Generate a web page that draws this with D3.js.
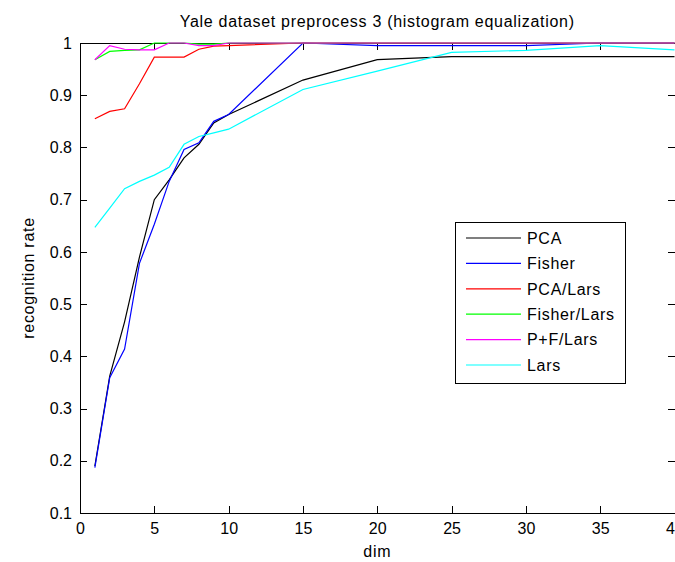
<!DOCTYPE html>
<html>
<head>
<meta charset="utf-8">
<script src="https://cdn.jsdelivr.net/npm/d3@7"></script>
<style>
  body { margin: 0; background: #fff; }
  svg { display: block; font-family: "Liberation Sans", Arial, sans-serif; }
  .axis path, .axis line { stroke: #000; shape-rendering: crispEdges; }
  .axis text { font-size: 16px; fill: #000; }
  .line { fill: none; stroke-width: 1.2px; }
  .lbl { font-size: 16px; letter-spacing: 0.7px; }
</style>
</head>
<body>
<svg width="675" height="562"></svg>
<script>
// dims where each method was evaluated
var dims = [1, 2, 3, 4, 5, 6, 7, 8, 9, 10, 15, 20, 25, 30, 35, 40];

var pca        = [0.190, 0.362, 0.466, 0.590, 0.700, 0.738, 0.780, 0.806, 0.847, 0.863, 0.929, 0.968, 0.974, 0.974, 0.974, 0.974];
var fisher     = [0.187, 0.359, 0.414, 0.578, 0.653, 0.735, 0.796, 0.809, 0.850, 0.863, 1.000, 0.995, 0.995, 0.995, 1.000, 1.000];
var pcaLars    = [0.855, 0.869, 0.874, 0.922, 0.973, 0.973, 0.973, 0.988, 0.994, 0.995, 1.000, 1.000, 1.000, 1.000, 1.000, 1.000];
var fisherLars = [0.968, 0.984, 0.986, 0.987, 1.000, 1.000, 1.000, 0.998, 0.998, 1.000, 1.000, 1.000, 1.000, 1.000, 1.000, 1.000];
var pfLars     = [0.968, 0.995, 0.988, 0.987, 0.987, 1.000, 1.000, 0.995, 0.995, 1.000, 1.000, 1.000, 1.000, 1.000, 1.000, 1.000];
var lars       = [0.647, 0.684, 0.721, 0.735, 0.747, 0.762, 0.806, 0.821, 0.828, 0.835, 0.911, 0.946, 0.982, 0.986, 0.995, 0.987];

var seriesNames = ["PCA", "Fisher", "PCA/Lars", "Fisher/Lars", "P+F/Lars", "Lars"];
var seriesValues = [pca, fisher, pcaLars, fisherLars, pfLars, lars];
var seriesColors = ["#000000", "#0000ff", "#ff0000", "#00ff00", "#ff00ff", "#00ffff"];

var xTicks = [0, 5, 10, 15, 20, 25, 30, 35, 40];
var yTicks = [0.1, 0.2, 0.3, 0.4, 0.5, 0.6, 0.7, 0.8, 0.9, 1];

var svg = d3.select("svg"),
    plot = {left: 80, right: 674.5, top: 43, bottom: 513};

var x = d3.scaleLinear().domain([0, 40]).range([plot.left, plot.right]),
    y = d3.scaleLinear().domain([0.1, 1]).range([plot.bottom, plot.top]);

// bottom axis with labels, ticks pointing inward
svg.append("g")
    .attr("class", "axis")
    .attr("transform", "translate(0," + plot.bottom + ")")
    .call(d3.axisBottom(x).tickValues(xTicks).tickFormat(d3.format("d"))
      .tickSizeInner(-7).tickSizeOuter(0).tickPadding(10));

// top axis, ticks only
svg.append("g")
    .attr("class", "axis")
    .attr("transform", "translate(0," + plot.top + ")")
    .call(d3.axisTop(x).tickValues(xTicks).tickFormat("")
      .tickSizeInner(-7).tickSizeOuter(0));

// left axis with labels
svg.append("g")
    .attr("class", "axis")
    .attr("transform", "translate(" + plot.left + ",0)")
    .call(d3.axisLeft(y).tickValues(yTicks).tickFormat(function(d) { return d === 1 ? "1" : d3.format(".1f")(d); })
      .tickSizeInner(-7).tickSizeOuter(0).tickPadding(8));

// right axis, ticks only
svg.append("g")
    .attr("class", "axis")
    .attr("transform", "translate(" + plot.right + ",0)")
    .call(d3.axisRight(y).tickValues(yTicks).tickFormat("")
      .tickSizeInner(-7).tickSizeOuter(0));

// title and labels
svg.append("text")
    .attr("class", "lbl")
    .attr("x", (plot.left + plot.right) / 2)
    .attr("y", 27)
    .attr("text-anchor", "middle")
    .text("Yale dataset preprocess 3 (histogram equalization)");

svg.append("text")
    .attr("class", "lbl")
    .attr("x", (plot.left + plot.right) / 2)
    .attr("y", 557)
    .attr("text-anchor", "middle")
    .text("dim");

svg.append("text")
    .attr("class", "lbl")
    .attr("transform", "rotate(-90)")
    .attr("x", -(plot.top + plot.bottom) / 2)
    .attr("y", 34)
    .attr("text-anchor", "middle")
    .text("recognition rate");

// the lines
var line = d3.line()
    .x(function(d) { return x(d.dim); })
    .y(function(d) { return y(d.rate); });

seriesValues.forEach(function(vals, i) {
  svg.append("path")
      .attr("class", "line")
      .attr("d", line(dims.map(function(dm, j) { return {dim: dm, rate: vals[j]}; })))
      .style("stroke", seriesColors[i]);
});

// legend
var legend = svg.append("g").attr("transform", "translate(455,222)");
legend.append("rect")
    .attr("width", 170).attr("height", 161)
    .attr("fill", "#fff").attr("stroke", "#000")
    .attr("shape-rendering", "crispEdges");

var item = legend.selectAll(".item")
    .data(seriesNames)
    .enter().append("g")
      .attr("class", "item")
      .attr("transform", function(d, i) { return "translate(0," + (16 + i * 25.4) + ")"; });

item.append("line")
    .attr("x1", 11).attr("x2", 66)
    .attr("stroke-width", 1.2)
    .attr("stroke", function(d, i) { return seriesColors[i]; });

item.append("text")
    .attr("class", "lbl")
    .attr("x", 72)
    .attr("dy", "0.36em")
    .text(function(d) { return d; });
</script>
</body>
</html>
